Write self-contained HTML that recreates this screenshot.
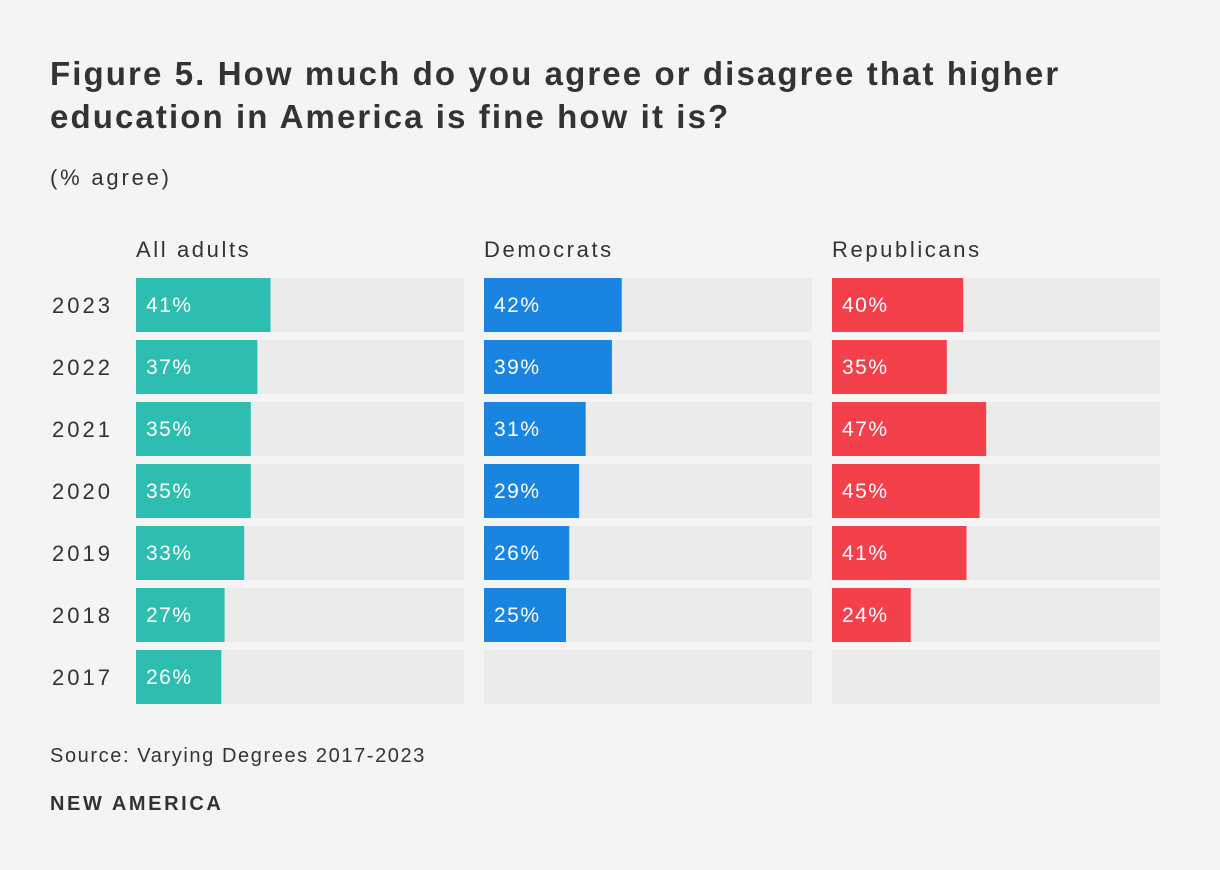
<!DOCTYPE html>
<html><head><meta charset="utf-8">
<style>
body{margin:0;background:#f4f4f4;font-family:"Liberation Sans",sans-serif;color:#333;}
#wrap{position:relative;width:1220px;height:870px;overflow:hidden;}
.t{position:absolute;white-space:nowrap;}
</style></head><body>
<div id="wrap">
<div class="t" style="left:50px;top:52px;font-size:33px;font-weight:bold;line-height:43px;letter-spacing:2.1px;color:#333;">Figure 5. How much do you agree or disagree that higher<br>education in America is fine how it is?</div>
<div class="t" style="left:50px;top:165px;font-size:22px;letter-spacing:2.8px;">(% agree)</div>
<svg id="chart" width="1220" height="870" style="position:absolute;left:0;top:0"></svg>
<div class="t" style="left:50px;top:745px;font-size:20px;letter-spacing:1.6px;">Source: Varying Degrees 2017-2023</div>
<div class="t" style="left:50px;top:793px;font-size:20px;font-weight:bold;letter-spacing:2.6px;">NEW AMERICA</div>
</div>
<script>
const years=["2023","2022","2021","2020","2019","2018","2017"];
const panels=["All adults","Democrats","Republicans"];
const allAdults=[41,37,35,35,33,27,26];
const democrats=[42,39,31,29,26,25,null];
const republicans=[40,35,47,45,41,24,null];
const series=[allAdults,democrats,republicans];
const colors=["#2ebdb1","#1985e0","#f3404b"];
const NS="http://www.w3.org/2000/svg";
const svg=document.getElementById('chart');
const panelX=i=>136+i*348, panelW=328;
const rowY=j=>278+j*62, rowH=54;
const xs=v=>v/100*panelW;
function mk(tag,attrs){const e=document.createElementNS(NS,tag);for(const k in attrs)e.setAttribute(k,attrs[k]);svg.appendChild(e);return e;}
years.forEach((y,j)=>{
  const t=mk('text',{x:52,y:rowY(j)+rowH/2+8,'font-size':22,'letter-spacing':3,fill:'#333','font-family':'Liberation Sans, sans-serif'});
  t.textContent=y;
  
  
});
panels.forEach((p,i)=>{
  const h=mk('text',{x:panelX(i),y:257,'font-size':22,'letter-spacing':2.6,fill:'#333','font-family':'Liberation Sans, sans-serif'});
  h.textContent=p;
  
  
  years.forEach((y,j)=>{
    const bg=mk('rect',{x:panelX(i),y:rowY(j),width:panelW,height:rowH,fill:'#ebebeb'});
    
    
    const v=series[i][j];
    if(v==null)return;
    const b=mk('rect',{x:panelX(i),y:rowY(j),width:xs(v),height:rowH,fill:colors[i]});
    
    
    const l=mk('text',{x:panelX(i)+10,y:rowY(j)+rowH/2+7,'font-size':21,'letter-spacing':1.5,fill:'#fff','font-family':'Liberation Sans, sans-serif'});
    l.textContent=v+'%';
    
    
  });
});
</script>
</body></html>
